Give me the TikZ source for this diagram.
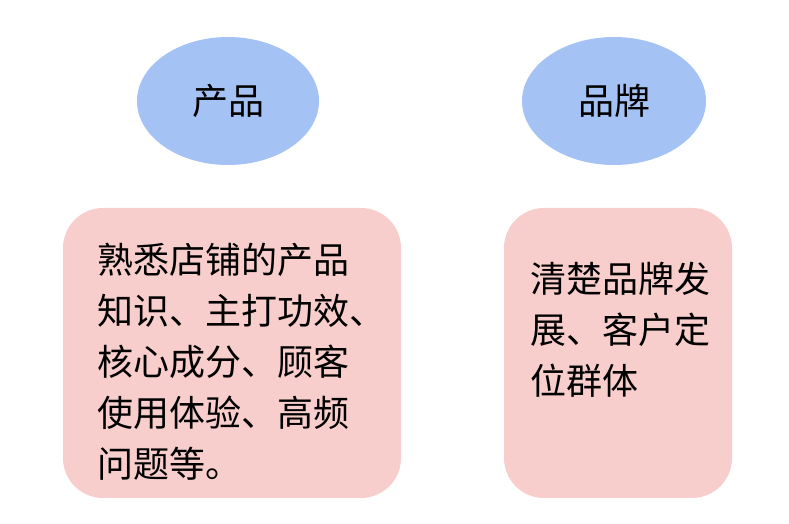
\documentclass[tikz,border=0pt]{standalone}
\usepackage{fontspec}
\newfontfamily\cjk{Noto Sans CJK SC}
\usetikzlibrary{shapes.geometric, positioning}
\definecolor{topicblue}{HTML}{A4C2F4}
\definecolor{cardpink}{HTML}{F8CECC}

\begin{document}
\begin{tikzpicture}[x=1pt, y=1pt,
    topic/.style={ellipse, fill=topicblue, inner sep=0pt, minimum height=128pt, font=\cjk\fontsize{36}{40}\selectfont},
    card/.style={rectangle, rounded corners=40pt, fill=cardpink, inner sep=0pt, minimum height=290pt},
    cardtext/.style={anchor=base west, align=left, inner sep=0pt, font=\cjk\fontsize{36}{51}\selectfont},
]
    \useasboundingbox (0,0) rectangle (789,524);

    \node[topic, minimum width=182pt] (product) at (228, 423) {产品};
    \node[topic, minimum width=184pt] (brand) at (614, 423) {品牌};

    \node[card, minimum width=338pt] (productcard) at (232, 171) {};
    \node[card, minimum width=228pt] (brandcard) at (618, 171) {};

    % base anchor sits on the last line
    \node[cardtext] (producttext) at (97, 46) {
        熟悉店铺的产品\\
        知识、主打功效、\\
        核心成分、顾客\\
        使用体验、高频\\
        问题等。
    };
    \node[cardtext] (brandtext) at (530, 129) {
        清楚品牌发\\
        展、客户定\\
        位群体
    };
\end{tikzpicture}
\end{document}
